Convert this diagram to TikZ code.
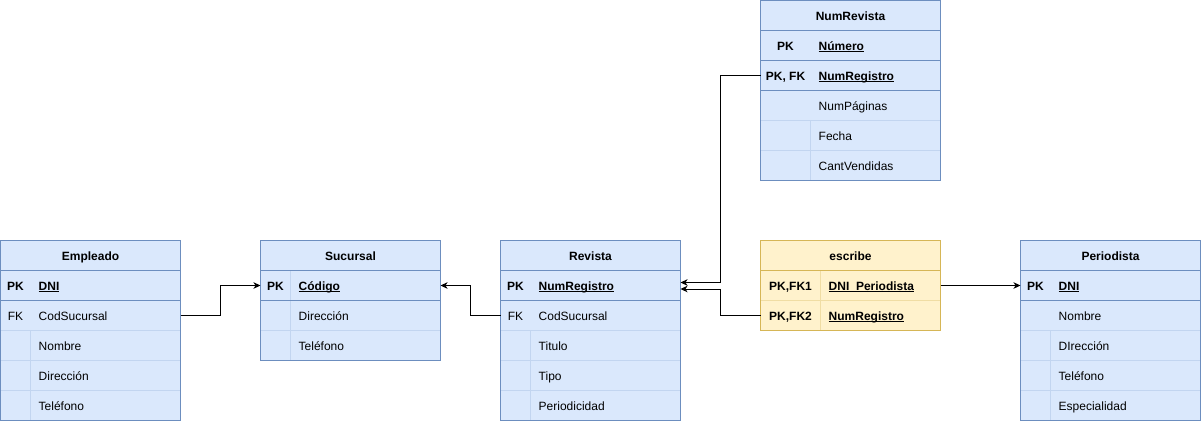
\documentclass[tikz,border=0pt]{standalone}
\usepackage{fontspec}
\setmainfont{Liberation Sans}
\usetikzlibrary{arrows.meta}

\definecolor{bfill}{HTML}{DAE8FC}
\definecolor{bline}{HTML}{6C8EBF}
\definecolor{bfaint}{HTML}{C2D5F0}
\definecolor{yfill}{HTML}{FFF2CC}
\definecolor{yline}{HTML}{D6B656}
\definecolor{yfaint}{HTML}{F0DDA4}

% underlined field name, rule just below the baseline
\newcommand\ulf[1]{\setbox0\hbox{#1}\rlap{\rule[-2pt]{\wd0}{1pt}}\box0}

% one table row: name, left x, centre y, key column width, text style, key, field
\newcommand\erow[7]{%
  \node[rowbox] (#1) at ({#2+90},#3) {};
  \node[#5,anchor=base] (#1-k) at ({#2+#4/2},{#3+4.5}) {#6};
  \node[#5,anchor=base west] (#1-f) at ({#2+#4+8},{#3+4.5}) {#7};}

% table title: name, left x, top y, title
\newcommand\ehead[4]{%
  \node[rowbox] (#1) at ({#2+90},{#3+15}) {};
  \node[txtb,anchor=base] (#1-t) at ({#2+90},{#3+19.5}) {#4};}

\tikzset{
  txt/.style={font=\fontsize{12}{14}\selectfont,inner sep=0pt,text=black},
  txtb/.style={font=\fontsize{12}{14}\selectfont\bfseries,inner sep=0pt,text=black},
  rowbox/.style={minimum width=180pt,minimum height=30pt,inner sep=0pt,outer sep=0pt},
  tblbody/.style={rowbox,fill=#1},
  tbledge/.style={draw=#1,line width=1pt},
  sep/.style={draw=#1,line width=1pt},
  link/.style={draw=black,line width=1pt,-{Stealth[length=7pt,width=6.5pt,inset=2pt]}},
}

\begin{document}
\begin{tikzpicture}[x=1pt,y=-1pt]
\useasboundingbox (0,0) rectangle (1201,421);
\begin{scope}[shift={(0.5,0.5)}]

% ---------------- Empleado ----------------
\node[tblbody=bfill,minimum height=180pt] (emp) at (90,330) {};
\ehead{emp-h}{0}{240}{Empleado}
\erow{emp-pk}{0}{285}{30}{txtb}{PK}{\ulf{DNI}}
\erow{emp-fk}{0}{315}{30}{txt}{FK}{CodSucursal}
\erow{emp-r3}{0}{345}{30}{txt}{}{Nombre}
\erow{emp-r4}{0}{375}{30}{txt}{}{Dirección}
\erow{emp-r5}{0}{405}{30}{txt}{}{Teléfono}
\draw[sep=bfaint] (emp-fk.south west) -- (emp-fk.south east);
\draw[sep=bfaint] (emp-r3.south west) -- (emp-r3.south east);
\draw[sep=bfaint] (emp-r4.south west) -- (emp-r4.south east);
\draw[sep=bfaint] ([xshift=30pt]emp-r3.north west) -- ([xshift=30pt]emp-r5.south west);
\draw[sep=bline] (emp-h.south west) -- (emp-h.south east);
\draw[sep=bline] (emp-pk.south west) -- (emp-pk.south east);
\draw[tbledge=bline] (emp.north west) rectangle (emp.south east);

% ---------------- Sucursal ----------------
\node[tblbody=bfill,minimum height=120pt] (suc) at (350,300) {};
\ehead{suc-h}{260}{240}{Sucursal}
\erow{suc-pk}{260}{285}{30}{txtb}{PK}{\ulf{Código}}
\erow{suc-r2}{260}{315}{30}{txt}{}{Dirección}
\erow{suc-r3}{260}{345}{30}{txt}{}{Teléfono}
\draw[sep=bfaint] (suc-r2.south west) -- (suc-r2.south east);
\draw[sep=bfaint] ([xshift=30pt]suc-pk.north west) -- ([xshift=30pt]suc-r3.south west);
\draw[sep=bline] (suc-h.south west) -- (suc-h.south east);
\draw[sep=bline] (suc-pk.south west) -- (suc-pk.south east);
\draw[tbledge=bline] (suc.north west) rectangle (suc.south east);

% ---------------- Revista ----------------
\node[tblbody=bfill,minimum height=180pt] (rev) at (590,330) {};
\ehead{rev-h}{500}{240}{Revista}
\erow{rev-pk}{500}{285}{30}{txtb}{PK}{\ulf{NumRegistro}}
\erow{rev-fk}{500}{315}{30}{txt}{FK}{CodSucursal}
\erow{rev-r3}{500}{345}{30}{txt}{}{Titulo}
\erow{rev-r4}{500}{375}{30}{txt}{}{Tipo}
\erow{rev-r5}{500}{405}{30}{txt}{}{Periodicidad}
\draw[sep=bfaint] (rev-fk.south west) -- (rev-fk.south east);
\draw[sep=bfaint] (rev-r3.south west) -- (rev-r3.south east);
\draw[sep=bfaint] (rev-r4.south west) -- (rev-r4.south east);
\draw[sep=bfaint] ([xshift=30pt]rev-r3.north west) -- ([xshift=30pt]rev-r5.south west);
\draw[sep=bline] (rev-h.south west) -- (rev-h.south east);
\draw[sep=bline] (rev-pk.south west) -- (rev-pk.south east);
\draw[tbledge=bline] (rev.north west) rectangle (rev.south east);

% ---------------- NumRevista ----------------
\node[tblbody=bfill,minimum height=180pt] (nr) at (850,90) {};
\ehead{nr-h}{760}{0}{NumRevista}
\erow{nr-pk}{760}{45}{50}{txtb}{PK}{\ulf{Número}}
\erow{nr-fk}{760}{75}{50}{txtb}{PK, FK}{\ulf{NumRegistro}}
\erow{nr-r3}{760}{105}{50}{txt}{}{NumPáginas}
\erow{nr-r4}{760}{135}{50}{txt}{}{Fecha}
\erow{nr-r5}{760}{165}{50}{txt}{}{CantVendidas}
\draw[sep=bfaint] (nr-r3.south west) -- (nr-r3.south east);
\draw[sep=bfaint] (nr-r4.south west) -- (nr-r4.south east);
\draw[sep=bfaint] ([xshift=50pt]nr-r4.north west) -- ([xshift=50pt]nr-r5.south west);
\draw[sep=bline] (nr-h.south west) -- (nr-h.south east);
\draw[sep=bline] (nr-pk.south west) -- (nr-pk.south east);
\draw[sep=bline] (nr-fk.south west) -- (nr-fk.south east);
\draw[tbledge=bline] (nr.north west) rectangle (nr.south east);

% ---------------- escribe ----------------
\node[tblbody=yfill,minimum height=90pt] (esc) at (850,285) {};
\ehead{esc-h}{760}{240}{escribe}
\erow{esc-fk1}{760}{285}{60}{txtb}{PK,FK1}{\ulf{DNI\_Periodista}}
\erow{esc-fk2}{760}{315}{60}{txtb}{PK,FK2}{\ulf{NumRegistro}}
\draw[sep=yfaint] (esc-fk1.south west) -- (esc-fk1.south east);
\draw[sep=yfaint] ([xshift=60pt]esc-fk1.north west) -- ([xshift=60pt]esc-fk2.south west);
\draw[sep=yline] (esc-h.south west) -- (esc-h.south east);
\draw[tbledge=yline] (esc.north west) rectangle (esc.south east);

% ---------------- Periodista ----------------
\node[tblbody=bfill,minimum height=180pt] (per) at (1110,330) {};
\ehead{per-h}{1020}{240}{Periodista}
\erow{per-pk}{1020}{285}{30}{txtb}{PK}{\ulf{DNI}}
\erow{per-r2}{1020}{315}{30}{txt}{}{Nombre}
\erow{per-r3}{1020}{345}{30}{txt}{}{DIrección}
\erow{per-r4}{1020}{375}{30}{txt}{}{Teléfono}
\erow{per-r5}{1020}{405}{30}{txt}{}{Especialidad}
\draw[sep=bfaint] (per-r2.south west) -- (per-r2.south east);
\draw[sep=bfaint] (per-r3.south west) -- (per-r3.south east);
\draw[sep=bfaint] (per-r4.south west) -- (per-r4.south east);
\draw[sep=bfaint] ([xshift=30pt]per-r3.north west) -- ([xshift=30pt]per-r5.south west);
\draw[sep=bline] (per-h.south west) -- (per-h.south east);
\draw[sep=bline] (per-pk.south west) -- (per-pk.south east);
\draw[tbledge=bline] (per.north west) rectangle (per.south east);

% ---------------- foreign key links ----------------
\draw[link] (emp-fk.east) -- ++(40,0) |- (suc-pk.west);
\draw[link] (rev-fk.west) -- ++(-30,0) |- (suc-pk.east);
\draw[link] (nr-fk.west) -- ++(-40,0) |- ([yshift=3pt]rev-pk.east);
\draw[link] (esc-fk2.west) -- ++(-40,0) |- ([yshift=-3.5pt]rev-pk.east);
\draw[link] (esc-fk1.east) -- (per-pk.west);

\end{scope}
\end{tikzpicture}
\end{document}
